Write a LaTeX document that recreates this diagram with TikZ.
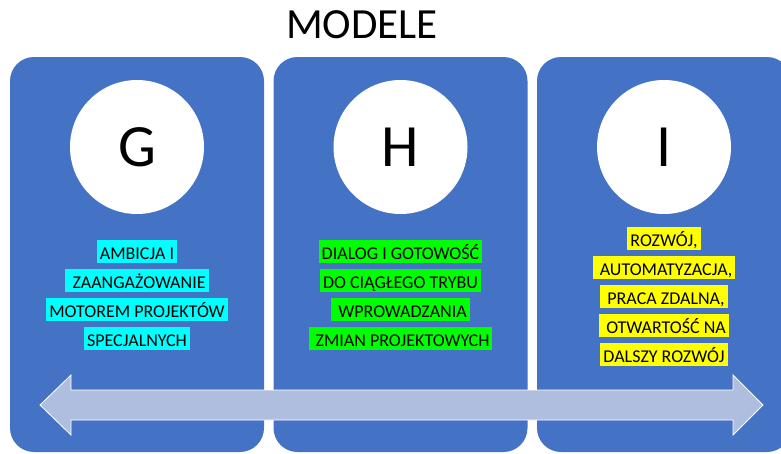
\documentclass[tikz,border=0pt]{standalone}
\usepackage{fontspec}
\setmainfont{Carlito}
\usetikzlibrary{positioning}
\definecolor{panelblue}{HTML}{4472C4}
\definecolor{arrowfill}{HTML}{AFBDDF}
\definecolor{hlcyan}{HTML}{00FFFF}
\definecolor{hlgreen}{HTML}{00FF00}
\definecolor{hlyellow}{HTML}{FFFF00}
\newcommand{\hlbox}[2]{{\setlength{\fboxsep}{0pt}\colorbox{#1}{\hspace{3pt}\rule[-4pt]{0pt}{23pt}#2\hspace{3pt}}}}
\tikzstyle{panel}=[rectangle,fill=panelblue,rounded corners=24pt,minimum width=254pt,minimum height=395pt,inner sep=0pt]
\tikzstyle{circ}=[circle,fill=white,minimum size=134pt,inner sep=0pt,font=\fontsize{60}{60}\selectfont]
\tikzstyle{txt}=[anchor=north,align=center,inner sep=0pt,font=\fontsize{18}{29}\selectfont]
\tikzstyle{arr}=[fill=arrowfill,draw=white,line width=0.8pt]

\begin{document}
\begin{tikzpicture}[x=1pt,y=-1pt]
\useasboundingbox (0,0) rectangle (781,453);
\clip (0,0) rectangle (781,453);
\node[font=\fontsize{43}{43}\selectfont] (title) at (362,25) {MODELE};
\node[panel] (P1) at (137,254.5) {};
\node[panel] (P2) at (400.5,254.5) {};
\node[panel] (P3) at (664,254.5) {};
\node[circ] (G) at (137,147) {G};
\node[circ] (H) at (400.5,147) {H};
\node[circ] (I) at (664,147) {I};
\node[txt] (T1) at (137,240) {\hlbox{hlcyan}{AMBICJA I}\\\hlbox{hlcyan}{ ZAANGAŻOWANIE}\\\hlbox{hlcyan}{MOTOREM PROJEKTÓW}\\\hlbox{hlcyan}{SPECJALNYCH}};
\node[txt] (T2) at (400.5,240) {\hlbox{hlgreen}{DIALOG I GOTOWOŚĆ}\\\hlbox{hlgreen}{DO CIĄGŁEGO TRYBU}\\\hlbox{hlgreen}{ WPROWADZANIA}\\\hlbox{hlgreen}{ ZMIAN PROJEKTOWYCH}};
\node[txt] (T3) at (664,227) {\hlbox{hlyellow}{ROZWÓJ,}\\\hlbox{hlyellow}{ AUTOMATYZACJA,}\\\hlbox{hlyellow}{ PRACA ZDALNA,}\\\hlbox{hlyellow}{ OTWARTOŚĆ NA}\\\hlbox{hlyellow}{DALSZY ROZWÓJ}};
% double arrow across the panels
\draw[arr] (40,405) -- (71,375) -- (71,390) -- (733,390) -- (733,375) -- (763,405)
  -- (733,435) -- (733,420) -- (71,420) -- (71,435) -- cycle;
\end{tikzpicture}
\end{document}
